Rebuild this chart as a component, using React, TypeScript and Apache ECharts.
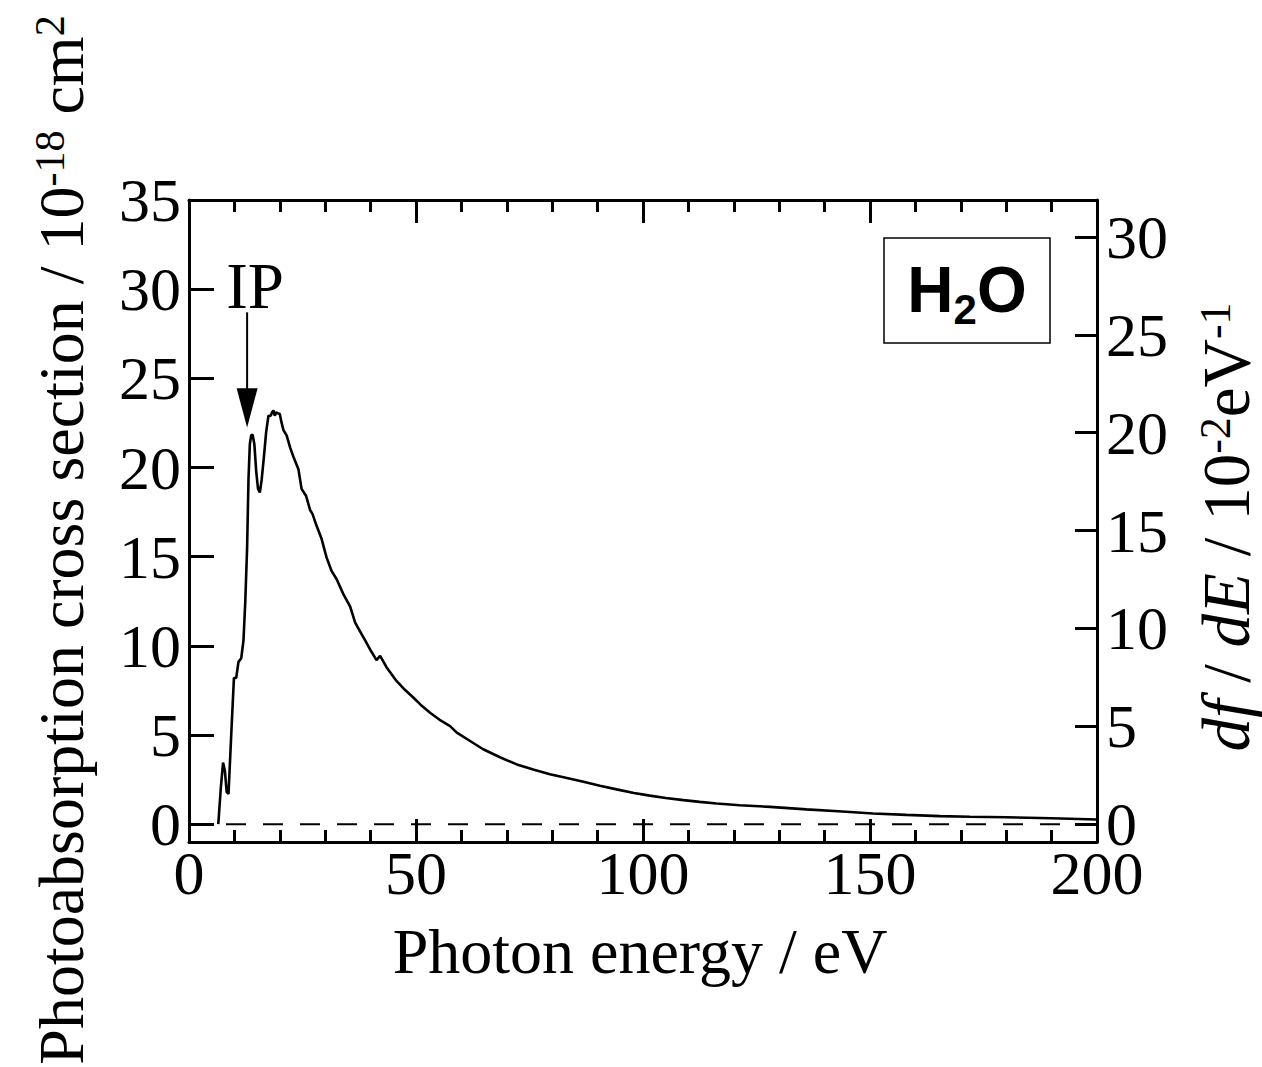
import React, { useEffect, useRef } from "react";
import * as echarts from "echarts";

// Photon energy (eV)
const energy = [
  6.45, 7.0, 7.5, 7.9, 8.3, 8.7, 9.3, 9.9, 10.4, 10.9,
  11.5, 12.0, 12.4, 12.8, 13.1, 13.4, 13.7, 14.0, 14.4, 14.8,
  15.2, 15.6, 16.0, 16.5, 17.0, 17.5, 18.0, 18.3, 18.6, 18.9,
  19.2, 19.5, 20.0, 20.4, 20.8, 21.5, 22.3, 23.0, 24.1, 24.8,
  25.8, 26.7, 27.2, 28.0, 29.2, 30.3, 31.4, 32.5, 34.0, 35.5,
  36.6, 37.7, 38.8, 40.0, 41.3, 42.1, 43.5, 45.7, 47.5, 49.4,
  51.0, 53.1, 55.5, 57.5, 59.0, 62.0, 64.8, 68.5, 72.2, 76.0,
  79.5, 83.0, 86.9, 90.5, 94.2, 98.0, 101.5, 105.0, 108.9, 112.5,
  116.2, 121.3, 128, 136, 143, 150.7, 158, 165.4, 172, 180,
  190, 200,
];
// Photoabsorption cross section (10^-18 cm^2)
const crossSection = [
  0, 2.0, 3.45, 3.0, 1.8, 1.7, 5.0, 8.2, 8.2, 9.1,
  9.3, 10.3, 12.5, 15.5, 19.3, 21.3, 21.8, 21.85, 21.3, 19.8,
  18.8, 18.6, 19.3, 20.6, 22.0, 22.9, 22.9, 23.1, 23.2, 22.9,
  23.1, 23.05, 23.0, 22.5, 22.1, 21.8, 21.1, 20.6, 19.9, 18.8,
  18.4, 17.6, 17.4, 16.8, 16.0, 14.96, 14.2, 13.75, 12.9, 12.2,
  11.3, 10.8, 10.3, 9.75, 9.2, 9.44, 8.8, 8.03, 7.55, 7.1,
  6.7, 6.25, 5.8, 5.5, 5.13, 4.65, 4.2, 3.75, 3.35, 3.05,
  2.8, 2.6, 2.38, 2.15, 1.95, 1.75, 1.6, 1.47, 1.35, 1.25,
  1.16, 1.06, 0.97, 0.83, 0.72, 0.6, 0.52, 0.45, 0.42, 0.39,
  0.33, 0.26,
];

const leftTicks = [0, 5, 10, 15, 20, 25, 30, 35];
const rightTicks = [0, 5, 10, 15, 20, 25, 30];
const xRange = [0, 200];
const leftRange = [-1, 35];
// sigma (Mb) = 1.0976 * df/dE (10^-2 eV^-1)
const SIGMA_PER_DFDE = 1.0976;
const zeroLine = [0, 0];
const ipEnergy = 12.8;
const arrowSigma = { top: 28.7, headBase: 24.45, tip: 22.25 };

const SERIF = "'Liberation Serif', 'Times New Roman', serif";
const SANS = "'Liberation Sans', Arial, sans-serif";

export default function App() {
  const ref = useRef<HTMLDivElement>(null);

  useEffect(() => {
    if (!ref.current) return;
    const chart = echarts.init(ref.current, null, { renderer: "svg" });
    const points = energy.map((e, i) => [e, crossSection[i]]);
    const lineW = 3;

    const xCommon = {
      type: "value",
      min: xRange[0],
      max: xRange[1],
      interval: 50,
      splitLine: { show: false },
      axisLine: { show: true, onZero: false, lineStyle: { color: "#000", width: lineW } },
      axisTick: { show: true, inside: true, length: 23, lineStyle: { color: "#000", width: lineW } },
      minorTick: { show: true, splitNumber: 5, length: 12, lineStyle: { color: "#000", width: lineW } },
    };

    chart.setOption({
      animation: false,
      backgroundColor: "#fff",
      textStyle: { fontFamily: SERIF },
      grid: { left: 189, right: 165, top: 200, bottom: 225, containLabel: false },
      xAxis: [
        {
          ...xCommon,
          position: "bottom",
          axisLabel: { show: true, color: "#000", fontSize: 62, lineHeight: 40, fontFamily: SERIF, margin: 11 },
        },
        {
          ...xCommon,
          position: "top",
          axisLabel: { show: false },
        },
      ],
      yAxis: [
        {
          type: "value",
          position: "left",
          min: leftRange[0],
          max: leftRange[1],
          splitLine: { show: false },
          axisLine: { show: true, onZero: false, lineStyle: { color: "#000", width: lineW } },
          axisTick: { show: true, inside: true, length: 25, customValues: leftTicks, lineStyle: { color: "#000", width: lineW } },
          axisLabel: { show: true, color: "#000", fontSize: 62, lineHeight: 40, fontFamily: SERIF, margin: 8, customValues: leftTicks },
        },
        {
          type: "value",
          position: "right",
          min: leftRange[0] / SIGMA_PER_DFDE,
          max: leftRange[1] / SIGMA_PER_DFDE,
          splitLine: { show: false },
          axisLine: { show: true, onZero: false, lineStyle: { color: "#000", width: lineW } },
          axisTick: { show: true, inside: true, length: 22, customValues: rightTicks, lineStyle: { color: "#000", width: lineW } },
          axisLabel: { show: true, color: "#000", fontSize: 62, lineHeight: 40, fontFamily: SERIF, margin: 9, customValues: rightTicks },
        },
      ],
      series: [
        {
          type: "line",
          xAxisIndex: 0,
          yAxisIndex: 0,
          data: xRange.map((x, i) => [x, zeroLine[i]]),
          showSymbol: false,
          silent: true,
          lineStyle: { color: "#000", width: 2, type: [20, 17] },
        },
        {
          type: "line",
          xAxisIndex: 0,
          yAxisIndex: 0,
          data: points,
          showSymbol: false,
          smooth: false,
          lineStyle: { color: "#000", width: 2.6 },
        },
      ],
    });

    const p = (x: number, y: number) => chart.convertToPixel({ xAxisIndex: 0, yAxisIndex: 0 }, [x, y]) as number[];
    const top = p(ipEnergy, arrowSigma.top);
    const base = p(ipEnergy, arrowSigma.headBase);
    const tip = p(ipEnergy, arrowSigma.tip);
    const ax = top[0];

    // H2O label pieces
    const hW = 0.722 * 64;
    const sW = 0.556 * 42;
    const oW = 0.778 * 64;
    const h2oLeft = 967 - (hW + sW + oW) / 2;

    chart.setOption({
      graphic: [
        // arrow to IP
        {
          type: "line",
          shape: { x1: ax, y1: top[1], x2: ax, y2: base[1] + 2 },
          style: { stroke: "#000", lineWidth: 2 },
        },
        {
          type: "polygon",
          shape: { points: [[ax - 10.5, base[1]], [ax + 10.5, base[1]], [ax, tip[1]]] },
          style: { fill: "#000" },
        },
        {
          type: "text",
          x: ax + 8,
          y: 286,
          style: { text: "IP", font: `65px ${SERIF}`, fill: "#000", align: "center", verticalAlign: "middle" },
        },
        // H2O box
        {
          type: "rect",
          shape: { x: 884, y: 238, width: 166, height: 105 },
          style: { fill: "none", stroke: "#000", lineWidth: 1.5 },
        },
        {
          type: "text",
          x: h2oLeft,
          y: 290,
          style: { text: "H", font: `bold 64px ${SANS}`, fill: "#000", align: "left", verticalAlign: "middle" },
        },
        {
          type: "text",
          x: h2oLeft + hW,
          y: 309,
          style: { text: "2", font: `bold 42px ${SANS}`, fill: "#000", align: "left", verticalAlign: "middle" },
        },
        {
          type: "text",
          x: h2oLeft + hW + sW,
          y: 290,
          style: { text: "O", font: `bold 64px ${SANS}`, fill: "#000", align: "left", verticalAlign: "middle" },
        },
        // x axis title
        {
          type: "text",
          x: 640,
          y: 951,
          style: { text: "Photon energy / eV", font: `64px ${SERIF}`, fill: "#000", align: "center", verticalAlign: "middle" },
        },
        // left axis title
        {
          type: "text",
          x: 61,
          y: 540,
          rotation: Math.PI / 2,
          style: {
            text: "{m|Photoabsorption cross section / 10}{s|-18}{m| cm}{s|2}",
            align: "center",
            verticalAlign: "middle",
            fill: "#000",
            rich: {
              m: { fontFamily: SERIF, fontSize: 64, lineHeight: 64, verticalAlign: "middle", fill: "#000" },
              s: { fontFamily: SERIF, fontSize: 42, lineHeight: 28, verticalAlign: "top", fill: "#000" },
            },
          },
        },
        // right axis title
        {
          type: "text",
          x: 1226,
          y: 527,
          rotation: Math.PI / 2,
          style: {
            text: "{i|df}{m| / }{i|dE}{m| / 10}{s|-2}{m|eV}{s|-1}",
            align: "center",
            verticalAlign: "middle",
            fill: "#000",
            rich: {
              m: { fontFamily: SERIF, fontSize: 67, lineHeight: 66, verticalAlign: "middle", fill: "#000" },
              i: { fontFamily: SERIF, fontStyle: "italic", fontSize: 67, lineHeight: 66, verticalAlign: "middle", fill: "#000" },
              s: { fontFamily: SERIF, fontSize: 44, lineHeight: 28, verticalAlign: "top", fill: "#000" },
            },
          },
        },
      ],
    });

    return () => chart.dispose();
  }, []);

  return (
    <div
      ref={ref}
      style={{ position: "fixed", left: 0, top: 0, width: 1262, height: 1067, background: "#fff" }}
    />
  );
}
